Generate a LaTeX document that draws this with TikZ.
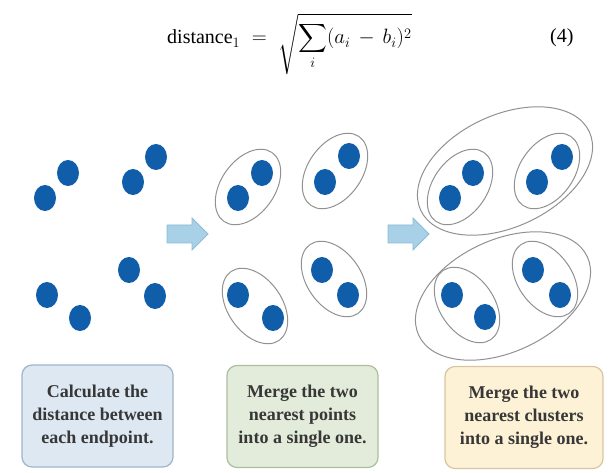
\documentclass[tikz,border=0pt]{standalone}
\usepackage{amsmath, amssymb}
\usepackage{fontspec}
\setmainfont{Liberation Serif}
\usepackage{tikz}
\usetikzlibrary{shapes.geometric, positioning, calc}

\definecolor{dotblue}{RGB}{16,94,170}
\definecolor{clusgray}{RGB}{145,145,145}
\definecolor{flowfill}{RGB}{168,208,230}
\definecolor{flowline}{RGB}{140,188,214}
\definecolor{txtgray}{RGB}{55,55,55}
\definecolor{fillA}{RGB}{221,232,243}
\definecolor{lineA}{RGB}{160,180,200}
\definecolor{fillB}{RGB}{227,235,218}
\definecolor{lineB}{RGB}{172,190,158}
\definecolor{fillC}{RGB}{253,241,214}
\definecolor{lineC}{RGB}{214,198,162}

\begin{document}
\begin{tikzpicture}[x=1pt, y=-1pt,
    dot/.style={ellipse, fill=dotblue, draw=none, minimum width=22pt, minimum height=26pt, inner sep=0pt},
    clus/.style={ellipse, draw=clusgray, line width=1pt, minimum width=84pt, minimum height=54pt, inner sep=0pt},
    bigclus/.style={ellipse, draw=clusgray, line width=1pt, minimum width=186pt, minimum height=112pt, inner sep=0pt},
    flow/.style={fill=flowfill, draw=flowline, line width=0.8pt},
    stepbox/.style={rounded corners=10pt, line width=1.2pt, minimum width=151pt, minimum height=102pt,
      align=center, text=txtgray, font=\fontsize{18}{23}\selectfont\bfseries}]
    \useasboundingbox (0,0) rectangle (611,473);

    % formula
    \node[anchor=base west, inner sep=0pt] (eq) at (167,44)
      {\fontsize{20}{24}\selectfont $\displaystyle \mathrm{distance}_1 \;=\; \sqrt{\sum_i (a_i \,-\, b_i)^2}$};
    \node[anchor=base west, inner sep=0pt] (eqno) at (550,43) {\fontsize{20}{24}\selectfont (4)};

    % points
    \foreach \px/\py [count=\i] in {45/198, 68/173, 133/182, 156/157, 47/295, 80/318, 129/270, 155/296,
        238/198, 262/173, 325/182, 349/156, 238/295, 273/318, 322/270, 348/295,
        450/198, 473/173, 537/182, 562/157, 452/295, 485/317, 533/270, 560/295}
      \node[dot] (p\i) at (\px,\py) {};

    % clusters after first merge
    \node[clus, rotate=55] (q1) at (248,187) {};
    \node[clus, rotate=55] (q2) at (335,171) {};
    \node[clus, rotate=-55] (q3) at (255,306) {};
    \node[clus, rotate=-55] (q4) at (334,279) {};

    % clusters after second merge
    \node[clus, rotate=55] (r1) at (460,187) {};
    \node[clus, rotate=55] (r2) at (547,171) {};
    \node[clus, rotate=-55] (r3) at (467,305) {};
    \node[clus, rotate=-55] (r4) at (545,279) {};
    \node[bigclus, rotate=25] (s1) at (505,171) {};
    \node[bigclus, rotate=25] (s2) at (503,296) {};

    % arrows
    \foreach \dx in {0,221}
      \draw[flow, xshift=\dx] (167,225) -- (192,225) -- (192,218) -- (208,234)
        -- (192,250) -- (192,243) -- (167,243) -- cycle;

    % captions
    \node[stepbox, fill=fillA, draw=lineA] (cap1) at (97.5,416) {Calculate the\\distance between\\each endpoint.};
    \node[stepbox, fill=fillB, draw=lineB] (cap2) at (302.5,416.5) {Merge the two\\nearest points\\into a single one.};
    \node[stepbox, fill=fillC, draw=lineC, minimum width=158pt] (cap3) at (524,417.5) {Merge the two\\nearest clusters\\into a single one.};
\end{tikzpicture}
\end{document}
